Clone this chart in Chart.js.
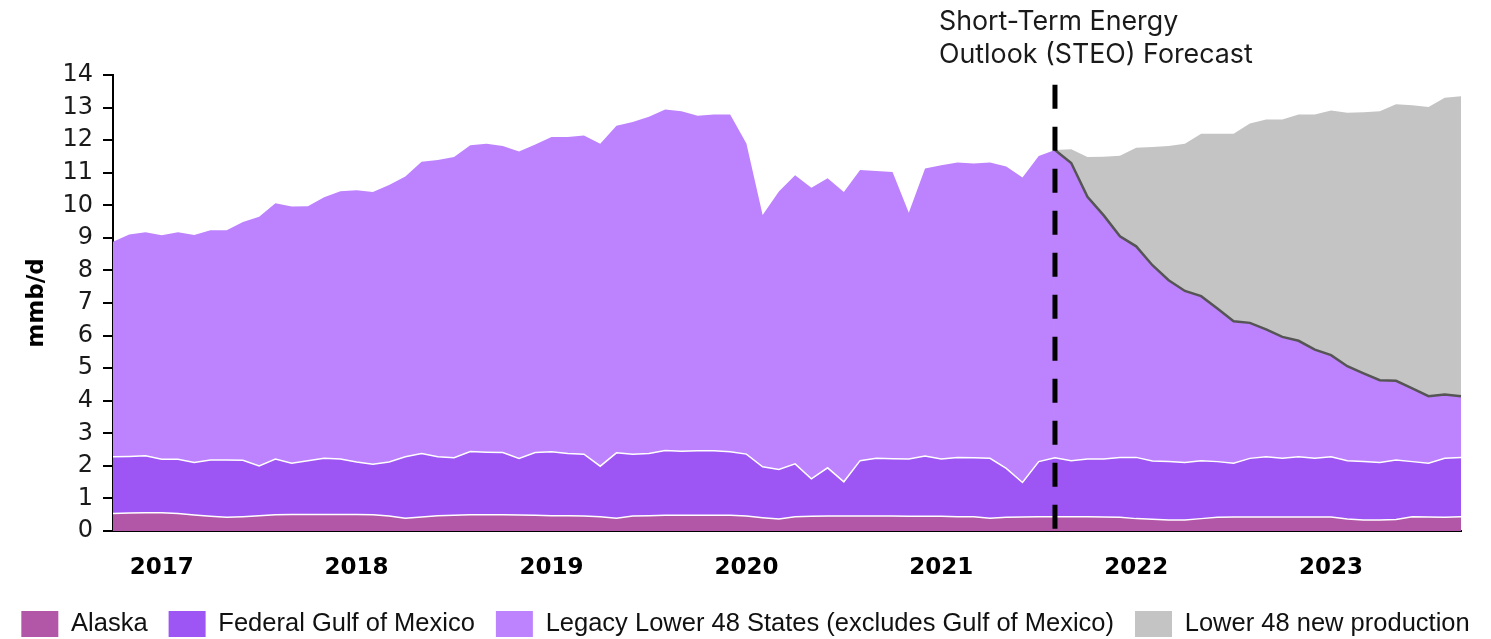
<!DOCTYPE html>
<html>
<head>
  <meta charset="utf-8">
  <title>Lower 48 oil production</title>
  <script src="https://cdn.jsdelivr.net/npm/chart.js"></script>
  <style>html,body{margin:0;padding:0;background:#fff;overflow:hidden;}#wrap{width:1491px;height:639px;}</style>
</head>
<body>
  <div id="wrap"><canvas id="chart"></canvas></div>
  <script>
    // monthly, Oct 2016 - Sep 2023 (mmb/d)
    const months = [
      '2016-10','2016-11','2016-12',
      '2017-01','2017-02','2017-03','2017-04','2017-05','2017-06','2017-07','2017-08','2017-09','2017-10','2017-11','2017-12',
      '2018-01','2018-02','2018-03','2018-04','2018-05','2018-06','2018-07','2018-08','2018-09','2018-10','2018-11','2018-12',
      '2019-01','2019-02','2019-03','2019-04','2019-05','2019-06','2019-07','2019-08','2019-09','2019-10','2019-11','2019-12',
      '2020-01','2020-02','2020-03','2020-04','2020-05','2020-06','2020-07','2020-08','2020-09','2020-10','2020-11','2020-12',
      '2021-01','2021-02','2021-03','2021-04','2021-05','2021-06','2021-07','2021-08','2021-09','2021-10','2021-11','2021-12',
      '2022-01','2022-02','2022-03','2022-04','2022-05','2022-06','2022-07','2022-08','2022-09','2022-10','2022-11','2022-12',
      '2023-01','2023-02','2023-03','2023-04','2023-05','2023-06','2023-07','2023-08','2023-09'
    ];
    const forecastStart = '2021-08';
    const noteLines = ['Short-Term Energy', 'Outlook (STEO) Forecast'];

    const alaska = [0.54,0.55,0.56,0.56,0.54,0.49,0.45,0.42,0.44,0.47, 0.50,0.51,0.51,0.51,0.51,0.51,0.50,0.46,0.39,0.43,
      0.47,0.48,0.50,0.50,0.50,0.49,0.48,0.47,0.47,0.46, 0.44,0.39,0.46,0.47,0.48,0.48,0.48,0.48,0.48,0.46,
      0.41,0.37,0.44,0.45,0.46,0.46,0.46,0.46,0.46,0.45, 0.45,0.45,0.44,0.44,0.39,0.42,0.43,0.44,0.44,0.44,
      0.44,0.43,0.42,0.38,0.36,0.34,0.34,0.38,0.42,0.43, 0.43,0.43,0.43,0.43,0.43,0.43,0.37,0.34,0.34,0.35,
      0.44,0.43,0.42,0.44];
    const gulf = [1.74,1.74,1.75,1.64,1.66,1.61,1.73,1.76,1.73,1.53, 1.71,1.57,1.65,1.72,1.70,1.61,1.55,1.66,1.89,1.95,
      1.81,1.77,1.94,1.92,1.91,1.74,1.93,1.96,1.91,1.90, 1.55,2.01,1.90,1.91,1.99,1.97,1.98,1.98,1.95,1.90,
      1.56,1.52,1.62,1.15,1.48,1.05,1.70,1.77,1.76,1.76, 1.85,1.76,1.82,1.81,1.84,1.50,1.06,1.69,1.81,1.72,
      1.77,1.78,1.84,1.88,1.79,1.79,1.76,1.78,1.71,1.65, 1.80,1.85,1.80,1.85,1.80,1.85,1.79,1.79,1.76,1.83,
      1.69,1.65,1.81,1.82];
    const legacy = [6.60,6.81,6.86,6.88,6.97,6.99,7.05,7.05,7.32,7.65, 7.85,7.88,7.81,8.02,8.22,8.34,8.36,8.50,8.60,8.96,
      9.11,9.23,9.40,9.47,9.41,9.42,9.46,9.67,9.72,9.78, 9.90,10.04,10.20,10.34,10.47,10.44,10.29,10.33,10.36,9.54,
      7.73,8.53,8.86,8.94,8.89,8.90,8.92,8.82,8.80,7.56, 8.83,9.02,9.05,9.03,9.08,9.27,9.36,9.38,9.45,9.14,
      8.05,7.48,6.79,6.48,6.01,5.57,5.27,5.05,4.70,4.36, 4.16,3.91,3.73,3.56,3.34,3.12,2.90,2.71,2.53,2.43,
      2.25,2.06,1.96,1.88];
    const newProd = [null,null,null,null,null,null,null,null,null,null, null,null,null,null,null,null,null,null,null,null,
      null,null,null,null,null,null,null,null,null,null, null,null,null,null,null,null,null,null,null,null,
      null,null,null,null,null,null,null,null,null,null, null,null,null,null,null,null,null,null,0,0.42,
      1.22,1.80,2.47,3.03,3.63,4.12,4.52,4.99,5.37,5.76, 6.12,6.44,6.67,6.95,7.22,7.51,7.78,8.02,8.26,8.49,
      8.69,8.88,9.11,9.21];

    const fIdx = months.indexOf(forecastStart);

    const steoLine = {
      id: 'steoLine',
      afterDatasetsDraw(chart) {
        const {ctx, chartArea, scales: {x, y}} = chart;
        const px = x.getPixelForValue(fIdx);
        ctx.save();
        ctx.strokeStyle = '#000';
        ctx.lineWidth = 5;
        ctx.setLineDash([24, 18]);
        ctx.beginPath();
        ctx.moveTo(px, y.getPixelForValue(13.7));
        ctx.lineTo(px, chartArea.bottom);
        ctx.stroke();
        ctx.setLineDash([]);
        ctx.fillStyle = '#1a1a1a';
        ctx.font = '26.8px Inter';
        ctx.textAlign = 'left';
        ctx.textBaseline = 'middle';
        ctx.fillText(noteLines[0], px - 116, chartArea.top - 53);
        ctx.fillText(noteLines[1], px - 116, chartArea.top - 20);
        ctx.restore();
      }
    };

    new Chart(document.getElementById('chart'), {
      type: 'line',
      data: {
        labels: months,
        datasets: [
          {label: 'Alaska', data: alaska, backgroundColor: '#b256a7', borderColor: '#ffffff', borderWidth: 1.5, fill: 'origin'},
          {label: 'Federal Gulf of Mexico', data: gulf, backgroundColor: '#9d55f3', borderColor: '#ffffff', borderWidth: 1.5, fill: '-1'},
          {label: 'Legacy Lower 48 States (excludes Gulf of Mexico)', data: legacy, backgroundColor: '#bd82fe',
           borderColor: 'rgba(0,0,0,0)', borderWidth: 2.5, fill: '-1',
           segment: {borderColor: c => c.p0DataIndex >= fIdx ? '#555555' : 'rgba(0,0,0,0)'}},
          {label: 'Lower 48 new production', data: newProd, backgroundColor: '#c4c4c4', borderWidth: 0, fill: '-1'}
        ]
      },
      options: {
        responsive: true,
        maintainAspectRatio: false,
        animation: false,
        layout: {padding: {top: 75, right: 0, left: 0, bottom: -8}},
        elements: {point: {radius: 0}, line: {tension: 0}},
        plugins: {
          tooltip: {enabled: false},
          legend: {
            position: 'bottom',
            labels: {
              boxWidth: 37, boxHeight: 26, padding: 21, color: '#111',
              font: {family: 'Liberation Sans', size: 25.5},
              generateLabels(chart) {
                return Chart.defaults.plugins.legend.labels.generateLabels(chart)
                  .map(l => ({...l, strokeStyle: l.fillStyle, lineWidth: 0}));
              }
            }
          }
        },
        scales: {
          x: {
            grid: {display: false, drawTicks: false},
            border: {display: true, color: '#000', width: 2},
            ticks: {
              autoSkip: false, maxRotation: 0, padding: 23, color: '#000',
              font: {family: 'DejaVu Sans', size: 23, weight: 'bold'},
              callback: (v, i) => months[i].endsWith('-01') ? months[i].slice(0, 4) : ''
            },
            afterFit(s) { s.height = 59; }
          },
          y: {
            stacked: true, min: 0, max: 14,
            ticks: {stepSize: 1, autoSkip: false, padding: 10, color: '#1a1a1a', font: {family: 'DejaVu Sans', size: 24}},
            grid: {drawOnChartArea: false, tickLength: 10, color: '#000', lineWidth: 2},
            border: {color: '#000', width: 2},
            title: {display: true, text: 'mmb/d', color: '#000', font: {family: 'DejaVu Sans', size: 23, weight: 'bold'}, padding: {top: 23, bottom: 0}},
            afterFit(s) { s.width = 113; }
          },
          // empty right margin
          yRight: {
            position: 'right', display: true,
            ticks: {display: false}, grid: {display: false}, border: {display: false},
            afterFit(s) { s.width = 30; }
          }
        }
      },
      plugins: [steoLine]
    });
  </script>
</body>
</html>
